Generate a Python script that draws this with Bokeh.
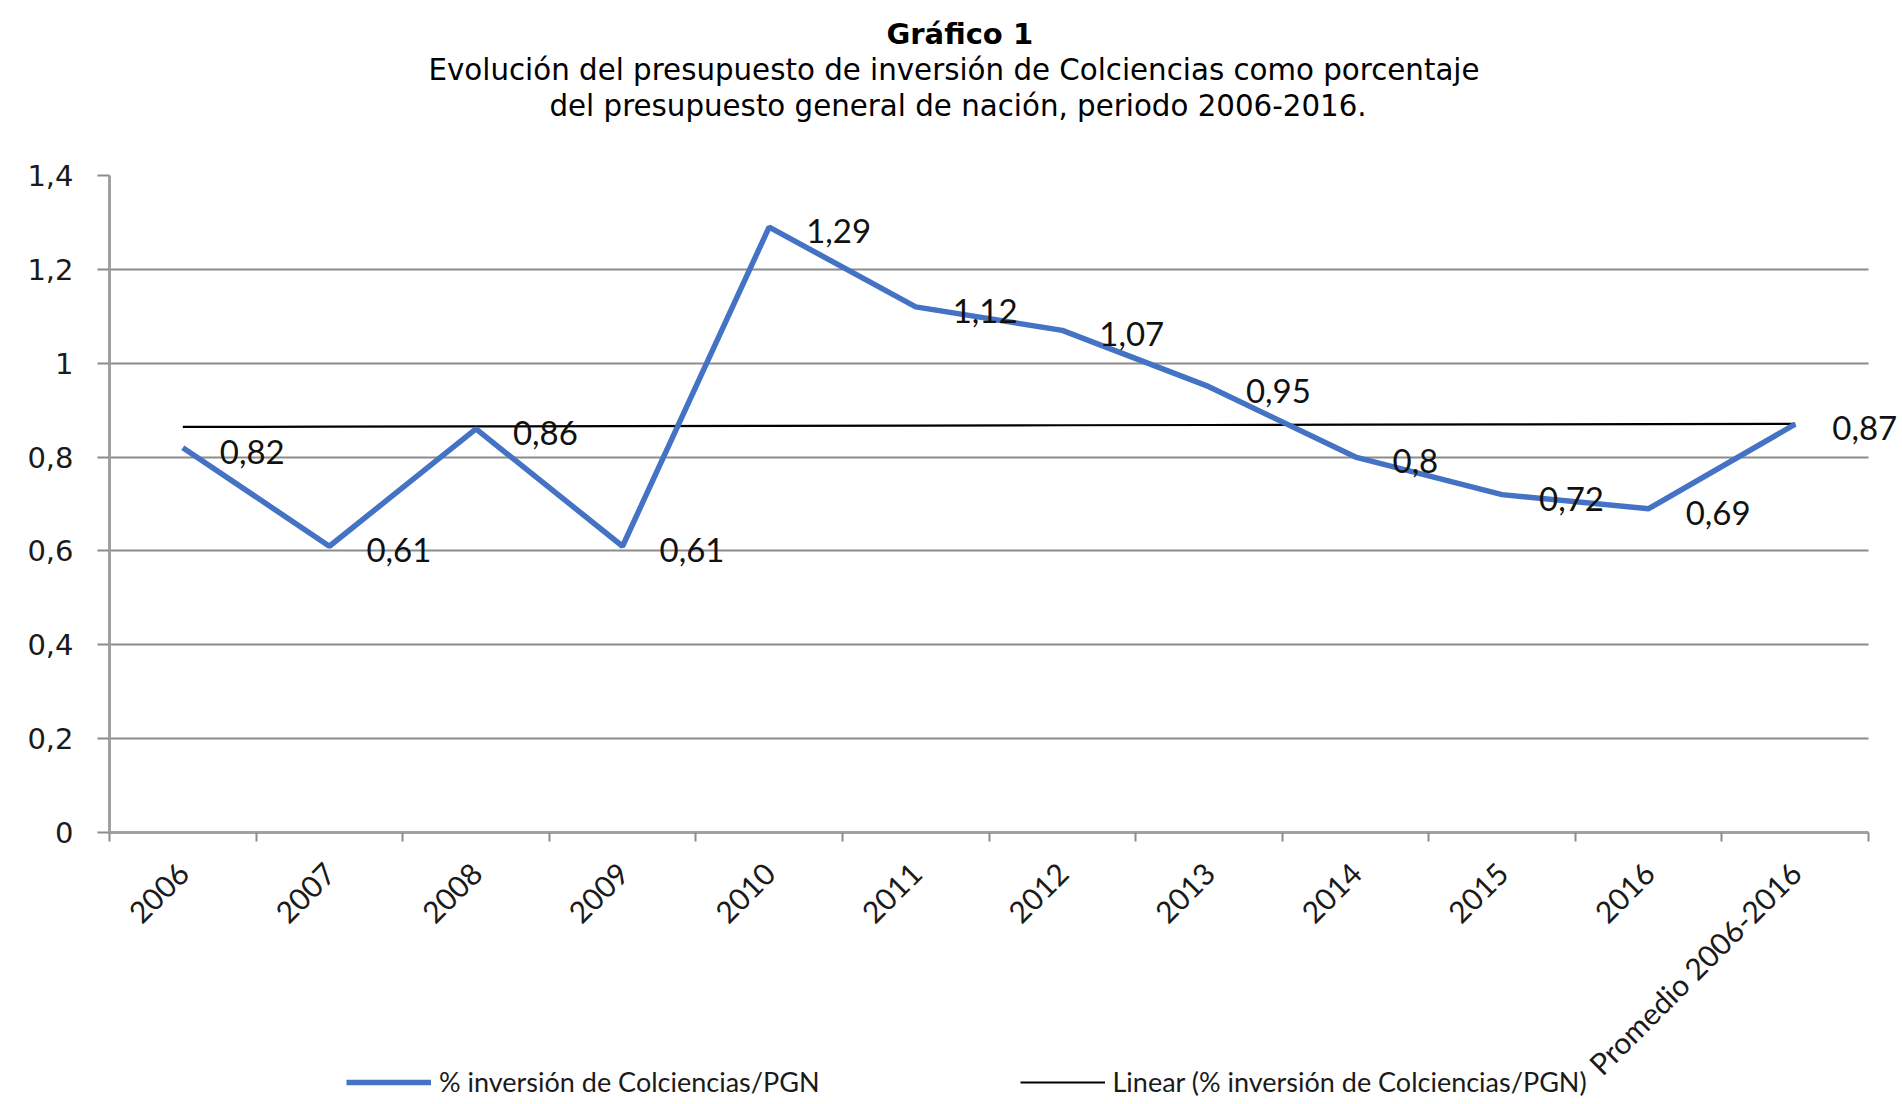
import numpy as np
from bokeh.plotting import figure
from bokeh.layouts import column
from bokeh.models import (ColumnDataSource, FixedTicker, CustomJSTickFormatter, Title,
                          Legend, LegendItem, Range1d)
from bokeh.core.properties import value
from bokeh.embed import file_html
from bokeh.resources import INLINE

# ---------------- data ----------------
categories = ["2006", "2007", "2008", "2009", "2010", "2011", "2012", "2013",
              "2014", "2015", "2016", "Promedio 2006-2016"]
values = [0.82, 0.61, 0.86, 0.61, 1.29, 1.12, 1.07, 0.95, 0.80, 0.72, 0.69, 0.87]
value_labels = ["0,82", "0,61", "0,86", "0,61", "1,29", "1,12", "1,07", "0,95",
                "0,8", "0,72", "0,69", "0,87"]
y_ticks = [0.0, 0.2, 0.4, 0.6, 0.8, 1.0, 1.2, 1.4]
title_main = "Gráfico 1"
title_line1 = "Evolución del presupuesto de inversión de Colciencias como porcentaje"
title_line2 = "del presupuesto general de nación, periodo 2006-2016."
legend_labels = ["% inversión de Colciencias/PGN",
                 "Linear (% inversión de Colciencias/PGN)"]

# ---------------- derived ----------------
n = len(categories)
xs = list(range(n))
slope, intercept = np.polyfit(xs, values, 1)
trend = [intercept + slope * xi for xi in xs]
boundaries = [i - 0.5 for i in range(n + 1)]
cat_lo, cat_hi = -0.5, n - 0.5

src = ColumnDataSource(dict(x=xs, y=values, lab=value_labels))
tsrc = ColumnDataSource(dict(x=xs, y=trend))

W = 1900
H = 1104
LEG_H = 40
p = figure(width=W, height=H, output_backend="svg", toolbar_location=None,
           title=None,
           x_range=Range1d(cat_lo, cat_hi + 0.218), y_range=Range1d(0, 1.4),
           min_border_left=109, min_border_right=0, min_border_top=175,
           min_border_bottom=272)
p.outline_line_color = None
p.background_fill_color = "white"
p.border_fill_color = "white"

# titles (added from closest-to-plot outward)
p.add_layout(Title(text=" ", text_font_size="1px", standoff=50), "above")
for txt, style, size, off in [(title_line2, "normal", "29.3px", 440),
                              (title_line1, "normal", "29.3px", 319),
                              (title_main, "bold", "29px", 777)]:
    t = Title(text=txt, align="left", offset=off, text_font="DejaVu Sans",
              text_font_size=size, text_font_style=style, text_color="black",
              standoff=0)
    p.add_layout(t, "above")

# grid
p.xgrid.visible = False
p.ygrid.ticker = FixedTicker(ticks=y_ticks)
p.ygrid.grid_line_color = "#8c8c8c"
p.ygrid.grid_line_width = 2
p.ygrid.cross_bounds = (cat_lo, cat_hi)

# y axis
p.yaxis.ticker = FixedTicker(ticks=y_ticks, minor_ticks=[])
p.yaxis.formatter = CustomJSTickFormatter(
    code="return tick.toFixed(1).replace('.', ',').replace(/,0$/, '');")
p.yaxis.axis_line_color = "#a0a0a0"
p.yaxis.axis_line_width = 3
p.yaxis.major_tick_line_color = "#8c8c8c"
p.yaxis.major_tick_line_width = 2
p.yaxis.major_tick_out = 12
p.yaxis.major_tick_in = 0
p.yaxis.minor_tick_line_color = None
p.yaxis.major_label_standoff = 24
p.yaxis.major_label_text_font = "DejaVu Sans"
p.yaxis.major_label_text_font_size = "29px"
p.yaxis.major_label_text_color = "#1a1a1a"

# x axis
p.xaxis.bounds = (cat_lo, cat_hi)
p.xaxis.ticker = FixedTicker(ticks=xs, minor_ticks=boundaries)
p.xaxis.formatter = CustomJSTickFormatter(args=dict(labels=categories),
                                          code="return labels[Math.round(tick)] || '';")
p.xaxis.major_label_orientation = np.pi / 4
p.xaxis.axis_line_color = "#a0a0a0"
p.xaxis.axis_line_width = 3
p.xaxis.major_tick_line_color = None
p.xaxis.major_tick_out = 0
p.xaxis.major_tick_in = 0
p.xaxis.minor_tick_line_color = "#8c8c8c"
p.xaxis.minor_tick_line_width = 2
p.xaxis.minor_tick_out = 9
p.xaxis.minor_tick_in = 0
p.xaxis.major_label_standoff = 26
p.xaxis.major_label_text_font = "Lato"
p.xaxis.major_label_text_font_size = "30px"
p.xaxis.major_label_text_color = "#1a1a1a"

# series
line_main = dict(line_color="#4472C4", line_width=5.5)
line_trend = dict(line_color="black", line_width=2.2)
p.line("x", "y", source=tsrc, **line_trend)
p.line("x", "y", source=src, **line_main)
p.text("x", "y", text="lab", source=src, text_font=value("Lato"),
       text_font_size="33px", text_color="#111111", text_align="left",
       text_baseline="middle", x_offset=37, y_offset=4)

# legend strip (separate transparent figure pulled up over the bottom of the chart)
lg = figure(width=W, height=LEG_H, output_backend="svg", toolbar_location=None,
            title=None, x_range=Range1d(0, 1), y_range=Range1d(0, 1),
            min_border=0, min_border_left=0, min_border_right=0,
            min_border_top=0, min_border_bottom=0, margin=(-LEG_H, 0, 0, 0))
lg.axis.visible = False
lg.grid.visible = False
lg.outline_line_color = None
lg.background_fill_alpha = 0
lg.border_fill_alpha = 0
nodata = dict(x=[np.nan], y=[np.nan])
lr_main = lg.line("x", "y", source=ColumnDataSource(nodata), **line_main)
lr_trend = lg.line("x", "y", source=ColumnDataSource(nodata), **line_trend)
legend = Legend(items=[LegendItem(label=legend_labels[0], renderers=[lr_main]),
                       LegendItem(label=legend_labels[1], renderers=[lr_trend])],
                orientation="horizontal", location=(237, 6), padding=0, margin=0,
                spacing=200, glyph_width=85, glyph_height=20, label_height=20,
                label_width=380, label_standoff=8, label_text_font="Lato",
                label_text_font_size="27px", label_text_color="#1a1a1a",
                border_line_color=None, background_fill_alpha=0)
lg.add_layout(legend)

layout = column(p, lg, spacing=0)
open("out.html", "w").write(file_html(layout, INLINE))
